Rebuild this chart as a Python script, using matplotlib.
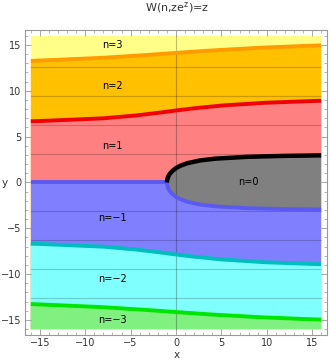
import numpy as np
import matplotlib
matplotlib.use('Agg')
import matplotlib.pyplot as plt
from matplotlib.ticker import MultipleLocator

# branch boundaries x = -y*cot(y), sampled points (x, y) for y > 0
red_x = [-16.0, -15.1, -8.04, -4.53, -1.96, 0.0, 2.04, 5.11, 9.84, 15.38, 16.0]
red_y = [6.68, 6.70, 7.00, 7.30, 7.60, 7.854, 8.10, 8.40, 8.70, 8.90, 8.915]

orange_x = [-16.0, -8.12, -3.35, 0.0, 3.88, 9.28, 14.23, 16.0]
orange_y = [13.26, 13.60, 13.90, 14.137, 14.40, 14.70, 14.90, 14.955]

hook_x = [-1.0, -0.97, -0.877, -0.714, -0.467, 0.0, 0.42, 1.228, 2.62, 4.32, 7.87, 11.77, 16.0]
hook_y = [0.0, 0.30, 0.60, 0.90, 1.20, 1.571, 1.80, 2.10, 2.40, 2.60, 2.80, 2.90, 2.959]

branches = [3, 2, 1, 0, -1, -2, -3]
label_x = [-7.0, -7.0, -7.0, 8.0, -7.0, -7.0, -7.0]
label_y = [15.0, 10.5, 4.0, 0.0, -3.9, -10.5, -15.0]

fill_col = {3: '#FFFF88', 2: '#FFC000', 1: '#FF8080', 0: '#808080',
            -1: '#8080FF', -2: '#80FFFF', -3: '#80F080'}
edge_col = {2: '#FF9A00', 1: '#F00000', 0: '#000000',
            -1: '#5A5AF0', -2: '#00BEBE', -3: '#00E600'}

L = 16.0
pad = 0.64

fig = plt.figure(figsize=(3.30, 3.61), dpi=100)
ax = fig.add_axes([0.0758, 0.072, 0.915, 0.845])

def below(xs, ys):
    # polygon between a curve and the bottom edge
    return list(xs) + [L, -L], list(ys) + [-L, -L]

rx, ry = np.array(red_x), np.array(red_y)
ox, oy = np.array(orange_x), np.array(orange_y)
hx, hy = np.array(hook_x), np.array(hook_y)

ax.fill([-L, L, L, -L], [-L, -L, L, L], color=fill_col[3], lw=0)
ax.fill(*below(ox, oy), color=fill_col[2], lw=0)
ax.fill(*below(rx, ry), color=fill_col[1], lw=0)
ax.fill([-L, L, L, -L], [-L, -L, 0, 0], color=fill_col[-1], lw=0)
ax.fill(*below(rx, -ry), color=fill_col[-2], lw=0)
ax.fill(*below(ox, -oy), color=fill_col[-3], lw=0)
ax.fill(np.r_[hx[::-1], hx], np.r_[hy[::-1], -hy], color=fill_col[0], lw=0)

# grid lines at multiples of pi
for k in [-4, -3, -2, -1, 1, 2, 3, 4]:
    ax.plot([-L, L], [k * np.pi] * 2, color='black', alpha=0.2, lw=0.8)
ax.plot([0, 0], [-L, L], color='black', alpha=0.25, lw=0.8)

lw = 2.8
ax.plot(ox, oy, color=edge_col[2], lw=lw, solid_capstyle='butt')
ax.plot(rx, ry, color=edge_col[1], lw=lw, solid_capstyle='butt')
ax.plot([-L, -1.0], [0, 0], color=edge_col[-1], lw=lw, solid_capstyle='butt')
ax.plot(hx, -hy, color=edge_col[-1], lw=lw, solid_capstyle='butt')
ax.plot(hx, hy, color=edge_col[0], lw=3.2, solid_capstyle='butt')
ax.plot(rx, -ry, color=edge_col[-2], lw=lw, solid_capstyle='butt')
ax.plot(ox, -oy, color=edge_col[-3], lw=lw, solid_capstyle='butt')

for n, tx, ty in zip(branches, label_x, label_y):
    ax.text(tx, ty, 'n=%d' % n if n >= 0 else 'n=\u2212%d' % -n,
            ha='center', va='center', fontsize=7, color='black')

ax.set_xlim(-L - pad, L + pad)
ax.set_ylim(-L - pad, L + pad)
ax.xaxis.set_major_locator(MultipleLocator(5))
ax.yaxis.set_major_locator(MultipleLocator(5))
ax.xaxis.set_minor_locator(MultipleLocator(1))
ax.yaxis.set_minor_locator(MultipleLocator(1))
ax.tick_params(which='both', direction='in', top=True, right=True,
               color='#999999', labelsize=7, labelcolor='#333333', pad=2.5)
ax.tick_params(which='major', length=4, width=0.6)
ax.tick_params(which='minor', length=2, width=0.5)
for s in ax.spines.values():
    s.set_color('#999999')
    s.set_linewidth(0.8)

fig.text(0.536, 0.978, r'W(n,ze$^{\mathregular{z}}$)=z', ha='center', va='center',
         fontsize=8, color='#333333')
fig.text(0.536, 0.017, 'x', ha='center', va='center', fontsize=7.5, color='#333333')
fig.text(0.015, 0.493, 'y', ha='center', va='center', fontsize=7.5, color='#333333')

fig.savefig('out.png', dpi=100)
